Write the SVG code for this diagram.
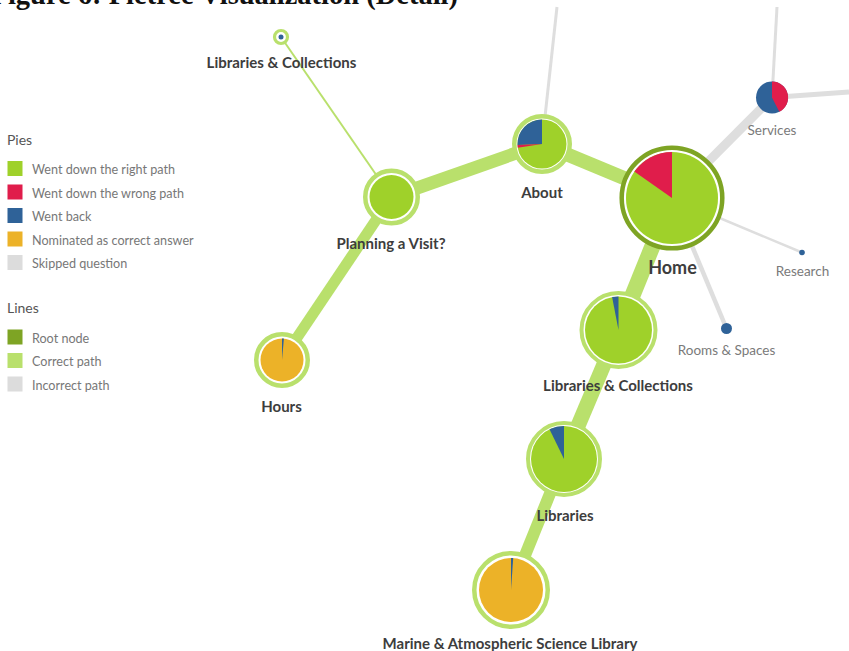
<svg xmlns="http://www.w3.org/2000/svg" width="849" height="651" viewBox="0 0 849 651">
<style>
.bg{fill:#ffffff}
.title{font-family:"Liberation Serif",serif;font-weight:bold;font-size:28.5px;fill:#111}
.lg-h{font-family:Lato,"Open Sans",sans-serif;font-size:14px;fill:#555}
.lg{font-family:Lato,"Open Sans",sans-serif;font-size:12.6px;fill:#777}
.lbl{font-family:Lato,"Open Sans",sans-serif;font-weight:bold;font-size:15px;fill:#3d3d3d;text-anchor:middle}
.lbl-big{font-family:Lato,"Open Sans",sans-serif;font-weight:bold;font-size:18px;fill:#3d3d3d;text-anchor:middle}
.lbl2{font-family:Lato,"Open Sans",sans-serif;font-size:13.5px;fill:#7a7a7a;text-anchor:middle}
.ok{stroke:#b9e06c;fill:none;stroke-linecap:butt}
.bad{stroke:#dedede;fill:none}
.ring{fill:#fff;stroke:#b9e06c}
.root{fill:#fff;stroke:#7ea424}
.g{fill:#9fd12a}
.r{fill:#e01d4b}
.b{fill:#2f6298}
.o{fill:#ecb228}
.k{fill:#dcdcdc}
.dg{fill:#7ea424}
.lgc{fill:#b9e06c}
</style>
<rect class="bg" x="0" y="0" width="849" height="651"/>
<text class="title" x="458" y="4" text-anchor="end">Figure 6: Pietree Visualization (Detail)</text>

<g id="legend">
  <text class="lg-h" x="7" y="145">Pies</text>
  <rect class="g" x="7.5" y="161" width="15" height="15"/>
  <text class="lg" x="32" y="174">Went down the right path</text>
  <rect class="r" x="7.5" y="184.5" width="15" height="15"/>
  <text class="lg" x="32" y="197.5">Went down the wrong path</text>
  <rect class="b" x="7.5" y="208" width="15" height="15"/>
  <text class="lg" x="32" y="221">Went back</text>
  <rect class="o" x="7.5" y="231.5" width="15" height="15"/>
  <text class="lg" x="32" y="244.5">Nominated as correct answer</text>
  <rect class="k" x="7.5" y="255" width="15" height="15"/>
  <text class="lg" x="32" y="268">Skipped question</text>
  <text class="lg-h" x="7" y="313">Lines</text>
  <rect class="dg" x="7.5" y="329.5" width="15" height="15"/>
  <text class="lg" x="32" y="342.5">Root node</text>
  <rect class="lgc" x="7.5" y="353" width="15" height="15"/>
  <text class="lg" x="32" y="366">Correct path</text>
  <rect class="k" x="7.5" y="376.5" width="15" height="15"/>
  <text class="lg" x="32" y="389.5">Incorrect path</text>
</g>

<g id="connectors">
  <line class="bad" x1="542" y1="144" x2="557" y2="7" stroke-width="3"/>
  <line class="bad" x1="672" y1="198" x2="772" y2="97.5" stroke-width="9"/>
  <line class="bad" x1="772" y1="97.5" x2="777" y2="7" stroke-width="3"/>
  <line class="bad" x1="772" y1="97.5" x2="849" y2="92" stroke-width="5"/>
  <line class="bad" x1="672" y1="198" x2="802" y2="252.5" stroke-width="2.5"/>
  <line class="bad" x1="672" y1="198" x2="726.5" y2="328.5" stroke-width="4.5"/>
  <line class="ok" x1="281" y1="37" x2="391.5" y2="197" stroke-width="2"/>
  <line class="ok" x1="282" y1="360" x2="391.5" y2="197" stroke-width="11"/>
  <line class="ok" x1="391.5" y1="197" x2="542" y2="144" stroke-width="13"/>
  <line class="ok" x1="542" y1="144" x2="672" y2="198" stroke-width="14"/>
  <line class="ok" x1="672" y1="198" x2="618.5" y2="330" stroke-width="16"/>
  <line class="ok" x1="618.5" y1="330" x2="564" y2="459" stroke-width="15"/>
  <line class="ok" x1="564" y1="459" x2="511" y2="590" stroke-width="12"/>
</g>

<g id="node-libcoll-top">
  <circle class="ring" cx="281" cy="37" r="6.5" stroke-width="3.2"/>
  <circle class="b" cx="281" cy="37" r="2.5"/>
  <text class="lbl" x="281.5" y="68">Libraries &amp; Collections</text>
</g>

<g id="node-planning">
  <circle class="ring" cx="391.5" cy="197" r="26.25" stroke-width="4.5"/>
  <circle class="g" cx="391.5" cy="197" r="22"/>
  <text class="lbl" x="391" y="249">Planning a Visit?</text>
</g>

<g id="node-about">
  <circle class="ring" cx="542" cy="144" r="27.75" stroke-width="4.5"/>
  <circle class="g" cx="542" cy="144" r="24.5"/>
  <path class="b" d="M542,144 L517.5,144.9 A24.5,24.5 0 0 1 542,119.5 Z"/>
  <path class="r" d="M542,144 L517.8,147.8 A24.5,24.5 0 0 1 517.5,144.9 Z"/>
  <text class="lbl" x="542" y="198">About</text>
</g>

<g id="node-home">
  <circle class="root" cx="672" cy="198" r="50.3" stroke-width="4.5"/>
  <circle class="g" cx="672" cy="198" r="46"/>
  <path class="r" d="M672,198 L634.3,171.6 A46,46 0 0 1 672,152 Z"/>
  <text class="lbl-big" x="672.5" y="274">Home</text>
</g>

<g id="node-services">
  <circle class="b" cx="772" cy="97.5" r="16"/>
  <path class="r" d="M772,97.5 L772,81.5 A16,16 0 0 1 779.3,111.8 Z"/>
  <text class="lbl2" x="772" y="135">Services</text>
</g>

<g id="node-research">
  <circle class="b" cx="802" cy="252.5" r="2.8"/>
  <text class="lbl2" x="802.5" y="276">Research</text>
</g>

<g id="node-rooms">
  <circle class="b" cx="726.5" cy="328.5" r="5.5"/>
  <text class="lbl2" x="726.5" y="355">Rooms &amp; Spaces</text>
</g>

<g id="node-hours">
  <circle class="ring" cx="282" cy="360" r="25.75" stroke-width="4.5"/>
  <circle class="o" cx="282" cy="360" r="21.5"/>
  <path class="b" d="M282,360 L282,338.5 A21.5,21.5 0 0 1 283.9,338.6 Z"/>
  <text class="lbl" x="281.5" y="412">Hours</text>
</g>

<g id="node-libcoll">
  <circle class="ring" cx="618.5" cy="330" r="37" stroke-width="4"/>
  <circle class="g" cx="618.5" cy="330" r="33.5"/>
  <path class="b" d="M618.5,330 L612.1,297.1 A33.5,33.5 0 0 1 618.5,296.5 Z"/>
  <text class="lbl" x="618" y="391">Libraries &amp; Collections</text>
</g>

<g id="node-libraries">
  <circle class="ring" cx="564" cy="459" r="36" stroke-width="4"/>
  <circle class="g" cx="564" cy="459" r="33"/>
  <path class="b" d="M564,459 L549.5,429.3 A33,33 0 0 1 564,426 Z"/>
  <text class="lbl" x="565" y="521">Libraries</text>
</g>

<g id="node-marine">
  <circle class="ring" cx="511" cy="590" r="36.75" stroke-width="4.5"/>
  <circle class="o" cx="511" cy="590" r="32"/>
  <path class="b" d="M511,590 L511,558 A32,32 0 0 1 513.2,558.1 Z"/>
  <text class="lbl" x="510" y="649">Marine &amp; Atmospheric Science Library</text>
</g>
</svg>
